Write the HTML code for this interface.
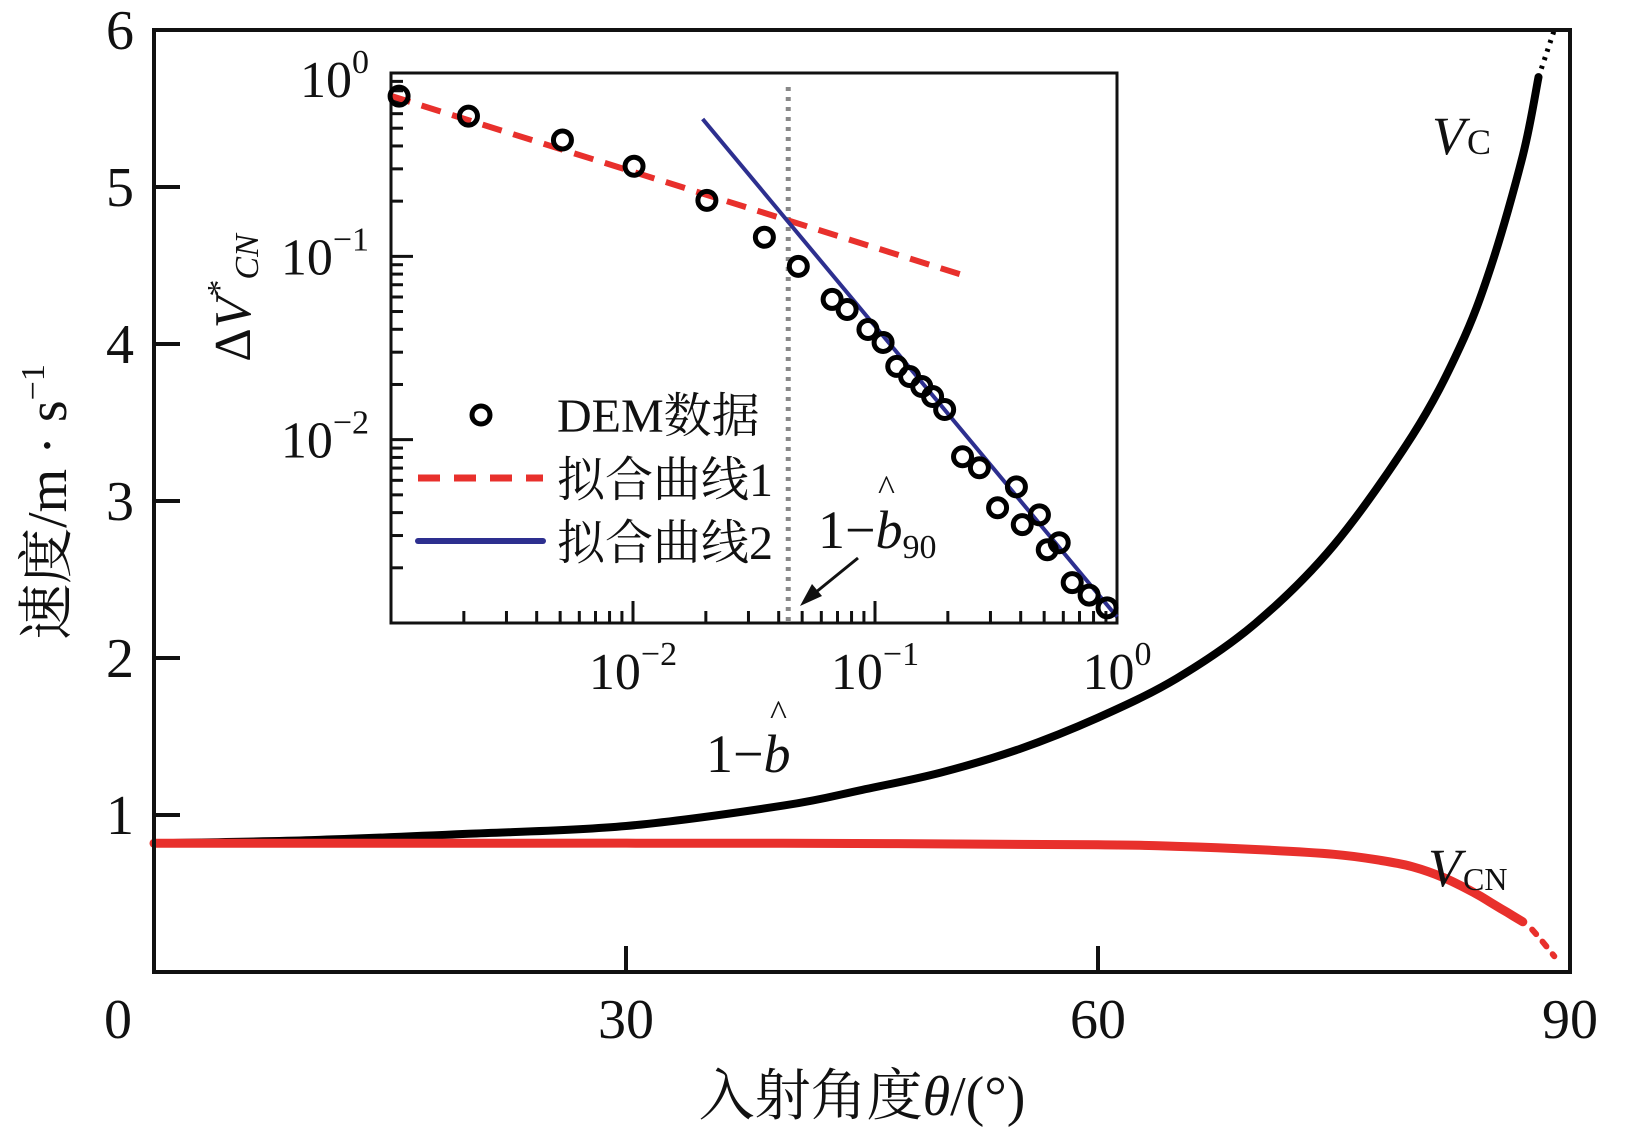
<!DOCTYPE html>
<html><head><meta charset="utf-8">
<style>
html,body{margin:0;padding:0;background:#fff;}
svg{display:block;}
text{font-family:"Liberation Serif","Noto Serif CJK SC","Noto Sans CJK SC",serif;fill:#111;}
</style></head>
<body>
<svg id="chart" width="1633" height="1134" viewBox="0 0 1633 1134" xmlns="http://www.w3.org/2000/svg">
<g id="main"></g>
<g id="inset"></g>
</svg>
<script>
// ---- main chart data ----
const vcAngles = [0,10,20,30,40,45,50,55,60,65,70,75,80,83,85,87,88];
const vcValues = [0.82,0.84,0.88,0.93,1.06,1.16,1.27,1.42,1.62,1.87,2.22,2.72,3.42,3.98,4.5,5.2,5.7];
const vcTailAngles = [88,88.5,89];
const vcTailValues = [5.7,5.85,6.0];
const cnAngles = [0,20,40,60,65,70,75,78,80,82,84,85,86,87];
const cnValues = [0.82,0.82,0.82,0.81,0.80,0.78,0.75,0.71,0.67,0.60,0.50,0.44,0.38,0.32];
const cnTailAngles = [87.6,88.2,89];
const cnTailValues = [0.27,0.2,0.1];
const xTicks = [0,30,60,90];
const yTicks = [1,2,3,4,5,6];
// ---- inset data ----
const demX = [0.00108,0.00209,0.00511,0.0101,0.0202,0.0349,0.0482,0.0665,0.0767,0.0935,0.108,0.123,0.139,0.156,0.173,0.194,0.230,0.270,0.321,0.384,0.406,0.478,0.515,0.577,0.653,0.767,0.910];
const demY = [0.748,0.582,0.431,0.310,0.202,0.127,0.0881,0.0582,0.0513,0.0399,0.0339,0.0251,0.0221,0.0195,0.0172,0.0146,0.00807,0.00703,0.00425,0.00553,0.00344,0.00389,0.00251,0.00274,0.00166,0.00142,0.00121];
const fit1X = [0.001,0.239];
const fit1Y = [0.75,0.0778];
const fit2X = [0.0194,1.0];
const fit2Y = [0.561,0.00108];
const bHat = 0.0438;
const insetXTicks = [-2,-1,0];
const insetYTicks = [0,-1,-2];

const NS="http://www.w3.org/2000/svg";
function mk(tag,attrs,parent){const e=document.createElementNS(NS,tag);for(const k in attrs)e.setAttribute(k,attrs[k]);parent.appendChild(e);return e;}

const L=154,R=1570,T=30,B=972;
const xs=v=>L+(v/90)*(R-L);
const ys=v=>B-(v/6)*(B-T);
const main=document.getElementById('main');

function smoothPath(xa,ya,fx,fy){
  const P=xa.map((x,i)=>[fx(x),fy(ya[i])]);
  let d='M'+P[0][0].toFixed(1)+','+P[0][1].toFixed(1);
  for(let i=0;i<P.length-1;i++){
    const p0=P[Math.max(0,i-1)],p1=P[i],p2=P[i+1],p3=P[Math.min(P.length-1,i+2)];
    const c1=[p1[0]+(p2[0]-p0[0])/6,p1[1]+(p2[1]-p0[1])/6];
    const c2=[p2[0]-(p3[0]-p1[0])/6,p2[1]-(p3[1]-p1[1])/6];
    d+=' C'+c1[0].toFixed(1)+','+c1[1].toFixed(1)+' '+c2[0].toFixed(1)+','+c2[1].toFixed(1)+' '+p2[0].toFixed(1)+','+p2[1].toFixed(1);
  }
  return d;
}

let p;
p=mk('path',{d:smoothPath(vcAngles,vcValues,xs,ys),fill:'none',stroke:'#000','stroke-width':8,'stroke-linejoin':'round','stroke-linecap':'round'},main);


p=mk('path',{d:smoothPath(vcTailAngles,vcTailValues,xs,ys),fill:'none',stroke:'#000','stroke-width':5,'stroke-dasharray':'3 6'},main);


p=mk('path',{d:smoothPath(cnAngles,cnValues,xs,ys),fill:'none',stroke:'#e8302c','stroke-width':9,'stroke-linejoin':'round','stroke-linecap':'round'},main);


p=mk('path',{d:smoothPath(cnTailAngles,cnTailValues,xs,ys),fill:'none',stroke:'#e8302c','stroke-width':6,'stroke-dasharray':'6 10','stroke-linecap':'round'},main);



p=mk('rect',{x:L,y:T,width:R-L,height:B-T,fill:'none',stroke:'#111','stroke-width':4},main);



xTicks.forEach(v=>{
  if(v>0&&v<90){const t=mk('line',{x1:xs(v),x2:xs(v),y1:B,y2:B-26,stroke:'#111','stroke-width':4},main);
  
  }
  const l=mk('text',{x:xs(v)+(v===0?-36:0),y:B+66,'font-size':56,'text-anchor':'middle'},main);l.textContent=v;
  
  
});
yTicks.forEach(v=>{
  if(v<6){const t=mk('line',{x1:L,x2:L+26,y1:ys(v),y2:ys(v),stroke:'#111','stroke-width':4},main);
  
  }
  const l=mk('text',{x:134,y:ys(v)+19,'font-size':56,'text-anchor':'end'},main);l.textContent=v;
  
  
});
</script>
<script>
(function(){
const main=document.getElementById('main');
const NS="http://www.w3.org/2000/svg";
function t(x,y,size,txt,name,extra){const e=document.createElementNS(NS,'text');e.setAttribute('x',x);e.setAttribute('y',y);e.setAttribute('font-size',size);if(extra)for(const k in extra)e.setAttribute(k,extra[k]);e.innerHTML=txt;


main.appendChild(e);return e;}
t(862,1115,56,'入射角度<tspan font-style="italic">θ</tspan>/(°)','x-axis-title',{'text-anchor':'middle'});
t(66,502,56,'速度/m · s<tspan font-size="34" dy="-22">−1</tspan>','y-axis-title',{'text-anchor':'middle',transform:'rotate(-90 66 502)'});
t(1432,154,54,'<tspan font-style="italic">V</tspan><tspan font-size="36" dx="2">C</tspan>','vc-label');
t(1428,886,54,'<tspan font-style="italic">V</tspan><tspan font-size="32" dx="2" dy="4">CN</tspan>','vcn-label');
})();
</script>
<script>
(function(){
const NS="http://www.w3.org/2000/svg";
function mk(tag,attrs,parent){const e=document.createElementNS(NS,tag);for(const k in attrs)e.setAttribute(k,attrs[k]);parent.appendChild(e);return e;}
const g=document.getElementById('inset');
const IL=391,IR=1117,IT=73,IB=623;
const ix=v=>IL+(Math.log10(v)+3)/3*(IR-IL);
const iy=v=>IT+(-Math.log10(v))/3*(IB-IT);
let e=mk('rect',{x:IL,y:IT,width:IR-IL,height:IB-IT,fill:'#fff',stroke:'#111','stroke-width':3},g);


for(let d=-3;d<0;d++){for(let m=1;m<10;m++){
  const v=m*Math.pow(10,d);const len=m===1?22:12;
  if(d>-3||m>1){const a=mk('line',{x1:ix(v),x2:ix(v),y1:IB,y2:IB-len,stroke:'#111','stroke-width':3},g);
  
  
  const b=mk('line',{x1:IL,x2:IL+len,y1:iy(v),y2:iy(v),stroke:'#111','stroke-width':3},g);
  
  }
}}
insetXTicks.forEach(d=>{const l=mk('text',{x:ix(Math.pow(10,d)),y:IB+66,'font-size':52,'text-anchor':'middle'},g);
l.innerHTML='10<tspan font-size="34" dy="-24">'+(d===0?'0':'−'+(-d))+'</tspan>';

});
insetYTicks.forEach(d=>{const l=mk('text',{x:IL-22,y:iy(Math.pow(10,d))+(d===0?24:18),'font-size':52,'text-anchor':'end'},g);
l.innerHTML='10<tspan font-size="34" dy="-24">'+(d===0?'0':'−'+(-d))+'</tspan>';

});
e=mk('line',{x1:ix(bHat),x2:ix(bHat),y1:IT+14,y2:IB,stroke:'#888','stroke-width':5,'stroke-dasharray':'4 6'},g);


e=mk('line',{x1:ix(fit1X[0]),y1:iy(fit1Y[0]),x2:ix(fit1X[1]),y2:iy(fit1Y[1]),stroke:'#e8302c','stroke-width':6,'stroke-dasharray':'20 12'},g);


e=mk('line',{x1:ix(fit2X[0]),y1:iy(fit2Y[0]),x2:ix(fit2X[1]),y2:iy(fit2Y[1]),stroke:'#2d2f8f','stroke-width':4},g);


demX.forEach((x,i)=>{const c=mk('circle',{cx:ix(x),cy:iy(demY[i]),r:9,fill:'none',stroke:'#000','stroke-width':5},g);

});
const lg=mk('g',{},g);


e=mk('circle',{cx:481,cy:415,r:9,fill:'none',stroke:'#000','stroke-width':5},lg);


e=mk('line',{x1:418,x2:543,y1:478,y2:478,stroke:'#e8302c','stroke-width':7,'stroke-dasharray':'22 14'},lg);


e=mk('line',{x1:418,x2:543,y1:541,y2:541,stroke:'#2d2f8f','stroke-width':6,'stroke-linecap':'round'},lg);


[['DEM数据',432,'legend-dem-label'],['拟合曲线1',496,'legend-fit1-label'],['拟合曲线2',559,'legend-fit2-label']].forEach(r=>{
 const l=mk('text',{x:557,y:r[1],'font-size':48},lg);l.textContent=r[0];
 
 });
e=mk('text',{x:250,y:298,'font-size':52,'text-anchor':'middle',transform:'rotate(-90 250 298)'},g);
e.innerHTML='Δ<tspan font-style="italic">V</tspan><tspan font-size="34" dy="-20">*</tspan><tspan font-size="34" font-style="italic" dy="28">CN</tspan>';


e=mk('text',{x:706,y:772,'font-size':54},g);
e.innerHTML='1−<tspan font-style="italic">b</tspan>';


e=mk('text',{x:770,y:725,'font-size':36},g);e.textContent='^';


e=mk('text',{x:818,y:548,'font-size':54},g);
e.innerHTML='1−<tspan font-style="italic">b</tspan><tspan font-size="34" dy="10">90</tspan>';


e=mk('text',{x:878,y:500,'font-size':36},g);e.textContent='^';


e=mk('line',{x1:858,y1:558,x2:810,y2:597,stroke:'#111','stroke-width':3},g);


e=mk('polygon',{points:'800,606 812,584 822,596',fill:'#111'},g);


})();
</script>
</body></html>
